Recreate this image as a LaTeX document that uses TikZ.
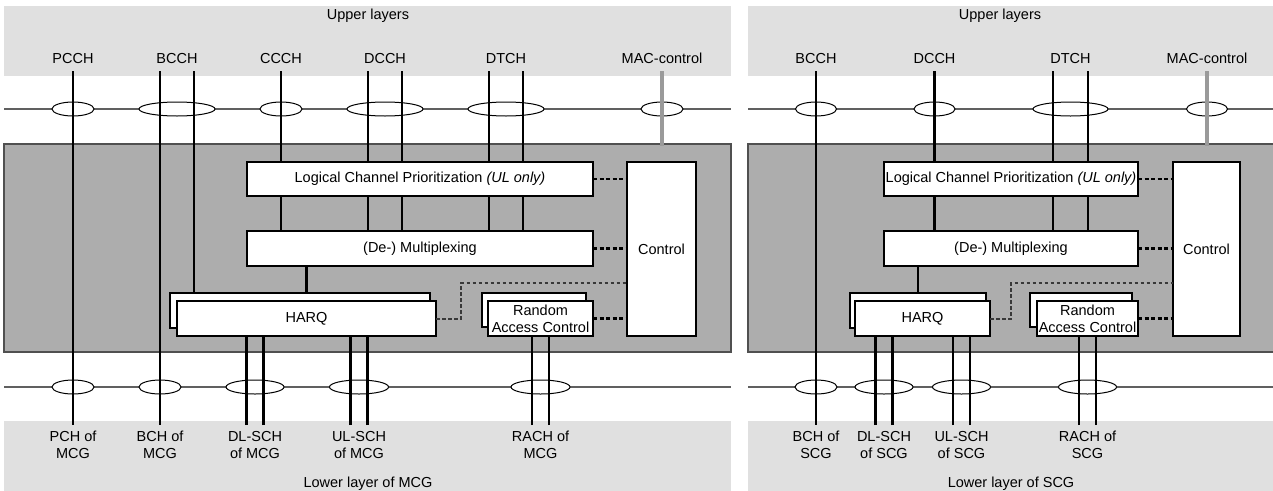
\documentclass[tikz,border=0pt]{standalone}
\usepackage{fontspec}
\setmainfont{Liberation Sans}
\usetikzlibrary{shapes.geometric}
\definecolor{bandgray}{HTML}{E0E0E0}
\definecolor{macgray}{HTML}{ADADAD}
\definecolor{edgegray}{HTML}{505050}
\definecolor{linegray}{HTML}{606060}
\definecolor{ctlgray}{HTML}{9A9A9A}
\definecolor{harqgray}{HTML}{383838}
\begin{document}
\begin{tikzpicture}[x=1pt,y=-1pt,
  font=\fontsize{14.5}{17}\selectfont,
  mac/.style={fill=macgray,draw=edgegray,line width=1.3pt},
  fn/.style={draw=black,fill=white,line width=1.1pt,inner sep=0pt,outer sep=0pt,align=center},
  sap/.style={ellipse,draw=black,fill=white,line width=1pt,inner sep=0pt,minimum height=14pt},
  bus/.style={draw=linegray,line width=1.1pt},
  chan/.style={line width=2.6pt,black},
  macctl/.style={line width=4.2pt,ctlgray},
  ctldash/.style={line width=2.3pt,dash pattern=on 4pt off 2.5pt},
  harqdash/.style={line width=2pt,harqgray,dash pattern=on 3.5pt off 2.5pt},
  toplab/.style={anchor=base,inner sep=0pt,text depth=0pt,outer ysep=8pt},
  botlab/.style={anchor=north,inner sep=0pt,outer ysep=6pt,align=center}]
  \useasboundingbox (0,0) rectangle (1273,490);

  % ---------------- MCG side ----------------
  \fill[bandgray] (4,6) rectangle (731,76); % upper layers
  \fill[bandgray] (4,421) rectangle (731,492); % lower layer
  \draw[mac] (4,144) rectangle (731,352); % MAC entity
  \draw[bus] (4,109) -- (731,109);
  \draw[bus] (4,387) -- (731,387);
  \node[anchor=base] (upL) at (368,19) {Upper layers};
  \node[anchor=base] (loL) at (368,487) {Lower layer of MCG};

  % logical channels
  \node[toplab] (pcchL) at (73,63) {PCCH};
  \node[toplab] (bcchL) at (177,63) {BCCH};
  \node[toplab] (ccchL) at (281,63) {CCCH};
  \node[toplab] (dcchL) at (385,63) {DCCH};
  \node[toplab] (dtchL) at (506,63) {DTCH};
  \node[toplab] (mctlL) at (662,63) {MAC-control};
  \node[sap,minimum width=42pt] (sPcchL) at (73,109) {};
  \node[sap,minimum width=76pt] (sBcchL) at (177,109) {};
  \node[sap,minimum width=42pt] (sCcchL) at (281,109) {};
  \node[sap,minimum width=76pt] (sDcchL) at (385,109) {};
  \node[sap,minimum width=76pt] (sDtchL) at (506,109) {};
  \node[sap,minimum width=42pt] (sMctlL) at (662,109) {};

  % transport channels
  \node[botlab] (pchL) at (73,425) {PCH of\\MCG};
  \node[botlab] (bchL) at (160,425) {BCH of\\MCG};
  \node[botlab] (dlL) at (255,425) {DL-SCH\\of MCG};
  \node[botlab] (ulL) at (359,425) {UL-SCH\\of MCG};
  \node[botlab] (rachL) at (540.5,425) {RACH of\\MCG};
  \node[sap,minimum width=42pt] (sPchL) at (73,387) {};
  \node[sap,minimum width=42pt] (sBchL) at (160,387) {};
  \node[sap,minimum width=58pt] (sDlL) at (255,387) {};
  \node[sap,minimum width=59pt] (sUlL) at (359,387) {};
  \node[sap,minimum width=59pt] (sRachL) at (540.5,387) {};

  % functions
  \node[fn,minimum width=346pt,minimum height=34pt] (lcpL) at (420,179) {Logical Channel Prioritization \textit{(UL only)}};
  \node[fn,minimum width=346pt,minimum height=35pt] (muxL) at (420,248.5) {(De-) Multiplexing};
  \node[fn,minimum width=69pt,minimum height=174pt] (ctrlL) at (661.5,249) {Control};
  \node[fn,minimum width=260pt,minimum height=35pt] (harqLb) at (300,310.5) {};
  \node[fn,minimum width=259pt,minimum height=35pt] (harqL) at (306.5,318.5) {HARQ};
  \node[fn,minimum width=104pt,minimum height=34pt] (racLb) at (534,310) {};
  \node[fn,minimum width=105pt,minimum height=35pt] (racL) at (540.5,318.5) {Random\\Access Control};

  \draw[chan] (pcchL.south) -- (pchL.north);
  \draw[chan] ([xshift=-17pt]bcchL.south) -- (bchL.north);
  \draw[chan] ([xshift=17pt]bcchL.south) -- ([xshift=17pt]bcchL.south |- harqLb.north);
  \draw[chan] (ccchL.south) -- (ccchL.south |- lcpL.north);
  \draw[chan] (ccchL |- lcpL.south) -- (ccchL |- muxL.north);
  \draw[chan] ([xshift=-17pt]dcchL.south) -- ([xshift=-17pt]dcchL.south |- lcpL.north);
  \draw[chan] ([xshift=17pt]dcchL.south) -- ([xshift=17pt]dcchL.south |- lcpL.north);
  \draw[chan] ([xshift=-17pt]dcchL.south |- lcpL.south) -- ([xshift=-17pt]dcchL.south |- muxL.north);
  \draw[chan] ([xshift=17pt]dcchL.south |- lcpL.south) -- ([xshift=17pt]dcchL.south |- muxL.north);
  \draw[chan] ([xshift=-17pt]dtchL.south) -- ([xshift=-17pt]dtchL.south |- lcpL.north);
  \draw[chan] ([xshift=17pt]dtchL.south) -- ([xshift=17pt]dtchL.south |- lcpL.north);
  \draw[chan] ([xshift=-17pt]dtchL.south |- lcpL.south) -- ([xshift=-17pt]dtchL.south |- muxL.north);
  \draw[chan] ([xshift=17pt]dtchL.south |- lcpL.south) -- ([xshift=17pt]dtchL.south |- muxL.north);
  \draw[chan] (harqL.north |- muxL.south) -- (harqL.north |- harqLb.north);
  \draw[chan] ([xshift=-8.5pt]dlL.north) -- ([xshift=-8.5pt]dlL.north |- harqL.south);
  \draw[chan] ([xshift=8.5pt]dlL.north) -- ([xshift=8.5pt]dlL.north |- harqL.south);
  \draw[chan] ([xshift=-8.5pt]ulL.north) -- ([xshift=-8.5pt]ulL.north |- harqL.south);
  \draw[chan] ([xshift=8.5pt]ulL.north) -- ([xshift=8.5pt]ulL.north |- harqL.south);
  \draw[chan] ([xshift=-8.5pt]rachL.north) -- ([xshift=-8.5pt]rachL.north |- racL.south);
  \draw[chan] ([xshift=8.5pt]rachL.north) -- ([xshift=8.5pt]rachL.north |- racL.south);
  \draw[macctl] (mctlL.south) -- ++(0,75);

  % control links
  \coordinate (bendL) at (461,283);
  \draw[ctldash] (lcpL.east) -- (lcpL.east -| ctrlL.west);
  \draw[ctldash] (muxL.east) -- (muxL.east -| ctrlL.west);
  \draw[ctldash] (racL.east) -- (racL.east -| ctrlL.west);
  \draw[harqdash] (harqL.east) -| (bendL) -- (bendL -| ctrlL.west);

  % ---------------- SCG side ----------------
  \fill[bandgray] (748,6) rectangle (1276,76); % upper layers
  \fill[bandgray] (748,421) rectangle (1276,492); % lower layer
  \draw[mac] (748,144) rectangle (1276,352); % MAC entity
  \draw[bus] (748,109) -- (1276,109);
  \draw[bus] (748,387) -- (1276,387);
  \node[anchor=base] (upR) at (1000,19) {Upper layers};
  \node[anchor=base] (loR) at (1011,487) {Lower layer of SCG};

  % logical channels
  \node[toplab] (bcchR) at (816,63) {BCCH};
  \node[toplab] (dcchR) at (934.5,63) {DCCH};
  \node[toplab] (dtchR) at (1070.5,63) {DTCH};
  \node[toplab] (mctlR) at (1207,63) {MAC-control};
  \node[sap,minimum width=41pt] (sBcchR) at (816,109) {};
  \node[sap,minimum width=41pt] (sDcchR) at (934.5,109) {};
  \node[sap,minimum width=75pt] (sDtchR) at (1070.5,109) {};
  \node[sap,minimum width=41pt] (sMctlR) at (1207,109) {};

  % transport channels
  \node[botlab] (bchR) at (816,425) {BCH of\\SCG};
  \node[botlab] (dlR) at (884,425) {DL-SCH\\of SCG};
  \node[botlab] (ulR) at (961.5,425) {UL-SCH\\of SCG};
  \node[botlab] (rachR) at (1087.5,425) {RACH of\\SCG};
  \node[sap,minimum width=42pt] (sBchR) at (816,387) {};
  \node[sap,minimum width=58pt] (sDlR) at (884,387) {};
  \node[sap,minimum width=58pt] (sUlR) at (961.5,387) {};
  \node[sap,minimum width=58pt] (sRachR) at (1087.5,387) {};

  % functions
  \node[fn,minimum width=254pt,minimum height=34pt] (lcpR) at (1011,179) {Logical Channel Prioritization \textit{(UL only)}};
  \node[fn,minimum width=254pt,minimum height=35pt] (muxR) at (1011,248.5) {(De-) Multiplexing};
  \node[fn,minimum width=67pt,minimum height=174pt] (ctrlR) at (1206.5,249) {Control};
  \node[fn,minimum width=136pt,minimum height=35pt] (harqRb) at (918,310.5) {};
  \node[fn,minimum width=135pt,minimum height=35pt] (harqR) at (922.5,318.5) {HARQ};
  \node[fn,minimum width=102pt,minimum height=34pt] (racRb) at (1081,310) {};
  \node[fn,minimum width=101pt,minimum height=35pt] (racR) at (1087.5,318.5) {Random\\Access Control};

  \draw[chan] (bcchR.south) -- (bchR.north);
  \draw[chan] (dcchR.south) -- (dcchR.south |- lcpR.north);
  \draw[chan] (dcchR |- lcpR.south) -- (dcchR |- muxR.north);
  \draw[chan] ([xshift=-17.5pt]dtchR.south) -- ([xshift=-17.5pt]dtchR.south |- lcpR.north);
  \draw[chan] ([xshift=17.5pt]dtchR.south) -- ([xshift=17.5pt]dtchR.south |- lcpR.north);
  \draw[chan] ([xshift=-17.5pt]dtchR.south |- lcpR.south) -- ([xshift=-17.5pt]dtchR.south |- muxR.north);
  \draw[chan] ([xshift=17.5pt]dtchR.south |- lcpR.south) -- ([xshift=17.5pt]dtchR.south |- muxR.north);
  \draw[chan] (harqRb.north |- muxR.south) -- (harqRb.north);
  \draw[chan] ([xshift=-8.5pt]dlR.north) -- ([xshift=-8.5pt]dlR.north |- harqR.south);
  \draw[chan] ([xshift=8.5pt]dlR.north) -- ([xshift=8.5pt]dlR.north |- harqR.south);
  \draw[chan] ([xshift=-8.5pt]ulR.north) -- ([xshift=-8.5pt]ulR.north |- harqR.south);
  \draw[chan] ([xshift=8.5pt]ulR.north) -- ([xshift=8.5pt]ulR.north |- harqR.south);
  \draw[chan] ([xshift=-8.5pt]rachR.north) -- ([xshift=-8.5pt]rachR.north |- racR.south);
  \draw[chan] ([xshift=8.5pt]rachR.north) -- ([xshift=8.5pt]rachR.north |- racR.south);
  \draw[macctl] (mctlR.south) -- ++(0,75);

  % control links
  \coordinate (bendR) at (1011,283);
  \draw[ctldash] (lcpR.east) -- (lcpR.east -| ctrlR.west);
  \draw[ctldash] (muxR.east) -- (muxR.east -| ctrlR.west);
  \draw[ctldash] (racR.east) -- (racR.east -| ctrlR.west);
  \draw[harqdash] (harqR.east) -| (bendR) -- (bendR -| ctrlR.west);
\end{tikzpicture}
\end{document}
